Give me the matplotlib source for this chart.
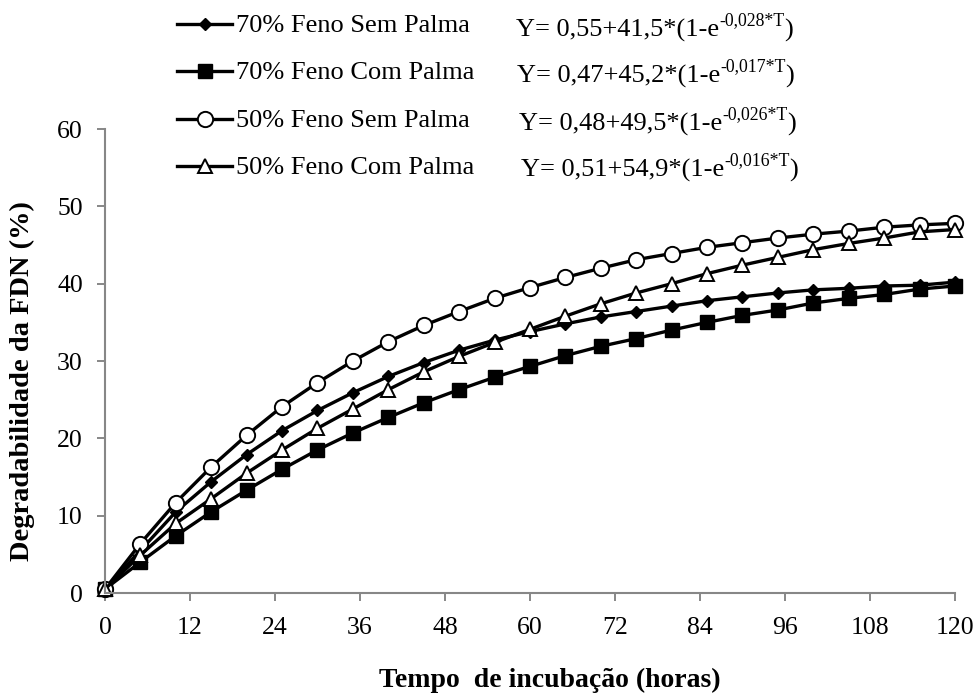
import matplotlib
matplotlib.use("Agg")
import matplotlib.pyplot as plt
from matplotlib.lines import Line2D

plt.rcParams['font.family'] = ['Liberation Serif', 'DejaVu Serif']

# tempo de incubacao (horas)
tempo = [0, 5, 10, 15, 20, 25, 30, 35, 40, 45, 50, 55, 60,
         65, 70, 75, 80, 85, 90, 95, 100, 105, 110, 115, 120]

feno70_sem = [0.5, 5.5, 10.5, 14.4, 17.9, 21.0, 23.6, 25.9, 28.0, 29.8, 31.4, 32.7, 33.8,
              34.8, 35.7, 36.4, 37.1, 37.8, 38.3, 38.8, 39.2, 39.4, 39.7, 39.8, 40.2]
feno70_com = [0.5, 4.0, 7.4, 10.5, 13.3, 16.0, 18.5, 20.7, 22.7, 24.6, 26.3, 27.9, 29.3,
              30.7, 31.9, 32.9, 34.0, 35.0, 35.9, 36.6, 37.5, 38.1, 38.6, 39.3, 39.7]
feno50_sem = [0.5, 6.4, 11.7, 16.3, 20.4, 24.1, 27.2, 30.0, 32.5, 34.6, 36.4, 38.1, 39.5,
              40.8, 42.0, 43.1, 43.9, 44.7, 45.3, 45.9, 46.4, 46.8, 47.3, 47.6, 47.8]
feno50_com = [0.5, 4.9, 9.0, 12.2, 15.5, 18.5, 21.3, 23.8, 26.3, 28.6, 30.6, 32.4, 34.1,
              35.8, 37.4, 38.8, 40.0, 41.3, 42.4, 43.4, 44.4, 45.2, 45.9, 46.7, 47.0]

labels = ['70% Feno Sem Palma', '70% Feno Com Palma',
          '50% Feno Sem Palma', '50% Feno Com Palma']
eq_base = ['Y= 0,55+41,5*(1-e', 'Y= 0,47+45,2*(1-e',
           'Y= 0,48+49,5*(1-e', 'Y= 0,51+54,9*(1-e']
eq_sup = ['-0,028*T', '-0,017*T', '-0,026*T', '-0,016*T']

W, H = 979, 695
fig = plt.figure(figsize=(W / 100, H / 100), dpi=100)
ax = fig.add_axes([105 / W, (H - 593) / H, 850 / W, 464 / H])

series = [feno70_sem, feno70_com, feno50_sem, feno50_com]
estilos = [dict(marker='D', mfc='black', ms=6.5),
           dict(marker='s', mfc='black', ms=9.5),
           dict(marker='o', mfc='white', ms=11, mew=1.4),
           dict(marker='^', mfc='white', ms=10, mew=1.4)]

for y, st in zip(series, estilos):
    ax.plot(tempo, y, color='black', lw=2.4, mec='black', clip_on=False, **st)

ax.set_xlim(0, 120)
ax.set_ylim(0, 60)
ax.set_xticks(range(0, 121, 12))
ax.set_yticks(range(0, 61, 10))
for s in ['top', 'right']:
    ax.spines[s].set_visible(False)
for s in ['left', 'bottom']:
    ax.spines[s].set_color('#878787')
    ax.spines[s].set_linewidth(1.5)
ax.tick_params(direction='out', length=6, width=1.4, color='#878787', labelsize=18.5)
ax.tick_params(axis='x', pad=11)
ax.tick_params(axis='y', pad=10)

ax.set_xlabel('Tempo  de incubação (horas)', fontsize=20, fontweight='bold')
ax.xaxis.label.set_va('center')
ax.xaxis.set_label_coords((550 - 105) / 850, (593 - 680) / 464)
ax.set_ylabel('Degradabilidade da FDN (%)', fontsize=20.5, fontweight='bold')
ax.yaxis.label.set_va('center')
ax.yaxis.set_label_coords((22 - 105) / 850, (593 - 381) / 464)

# legenda manual acima do grafico
def fx(px):
    return px / W

def fy(py):
    return 1 - py / H

bases = [32, 79, 127, 174]
for lab, st, b in zip(labels, estilos, bases):
    yl = b - 8.5
    fig.add_artist(Line2D([fx(177), fx(204.5), fx(232)], [fy(yl)] * 3,
                          transform=fig.transFigure, color='black', lw=2.4,
                          mec='black', markevery=[1], **st))
    fig.text(fx(236), fy(b), lab, fontsize=19, va='baseline')

# equacoes com expoente
renderer = fig.canvas.get_renderer()
eq_x = [516, 517, 519, 521]
eq_b = [37, 83, 131, 177]
for base, sup, xx, b in zip(eq_base, eq_sup, eq_x, eq_b):
    t = fig.text(fx(xx), fy(b), base, fontsize=19, va='baseline')
    bb = t.get_window_extent(renderer)
    s = fig.text(bb.x1 / W, fy(b - 12), sup, fontsize=12.8, va='baseline')
    bb2 = s.get_window_extent(renderer)
    fig.text(bb2.x1 / W, fy(b), ')', fontsize=19, va='baseline')

fig.savefig('out.png', dpi=100)
